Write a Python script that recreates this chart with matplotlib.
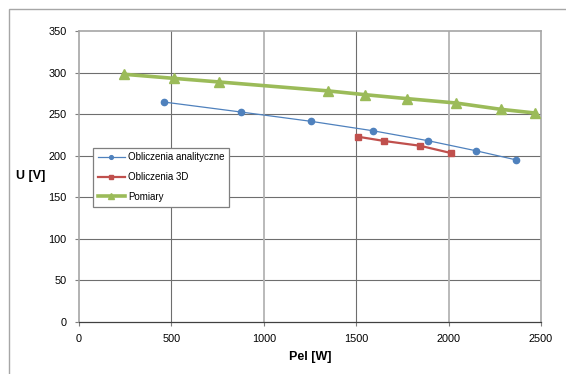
import matplotlib.pyplot as plt
from matplotlib.patches import Rectangle

plt.rcParams['font.family'] = ['Liberation Sans', 'DejaVu Sans']

# Obliczenia analityczne
anal_p = [458, 875, 1254, 1591, 1890, 2147, 2365]
anal_u = [264.6, 252.6, 241.4, 230.0, 218.0, 206.0, 195.0]

# Obliczenia 3D
fem_p = [1508, 1652, 1845, 2011]
fem_u = [222.9, 217.7, 212.0, 203.3]

# Pomiary
meas_p = [242, 516, 758, 1346, 1548, 1777, 2040, 2282, 2466]
meas_u = [298.0, 293.0, 288.7, 278.0, 273.4, 268.6, 263.4, 255.8, 251.4]

x_ticks = [0, 500, 1000, 1500, 2000, 2500]
y_ticks = [0, 50, 100, 150, 200, 250, 300, 350]

W, H = 566, 374
fig = plt.figure(figsize=(W / 100, H / 100), dpi=100)

# outer chart frame (clipped at right/bottom like the original)
fig.patches.append(Rectangle((9 / W, -0.1), 1.2, 1 - 9 / H + 0.1,
                             transform=fig.transFigure, fill=False,
                             edgecolor='#a6a6a6', linewidth=1.0))

ax = fig.add_axes([79 / W, 1 - 322 / H, (541 - 79) / W, (322 - 31) / H])
ax.set_xlim(0, 2500)
ax.set_ylim(0, 350)
ax.set_xticks(x_ticks)
ax.set_yticks(y_ticks)
ax.tick_params(labelsize=7.8, length=3, width=0.8, color='#7f7f7f')
ax.tick_params(axis='y', pad=6)
ax.tick_params(axis='x', pad=6)

# grid lines
for y in y_ticks[1:-1]:
    ax.axhline(y, color='#6e6e6e', linewidth=0.8, zorder=0)
for x in x_ticks[1:-1]:
    c = '#6e6e6e' if x in (500, 1500) else '#b4b4b4'
    lw = 0.8 if x in (500, 1500) else 1.3
    ax.axvline(x, color=c, linewidth=lw, zorder=0)

for s in ['left', 'top', 'right']:
    ax.spines[s].set_color('#a6a6a6')
    ax.spines[s].set_linewidth(1.2)
ax.spines['bottom'].set_color('#404040')
ax.spines['bottom'].set_linewidth(0.9)

ax.plot(anal_p, anal_u, color='#4F81BD', linewidth=0.9, marker='o',
        markersize=4.5, label='Obliczenia analityczne', zorder=3)
ax.plot(fem_p, fem_u, color='#C0504D', linewidth=1.6, marker='s',
        markersize=4.5, label='Obliczenia 3D', zorder=3)
ax.plot(meas_p, meas_u, color='#9BBB59', linewidth=2.6, marker='^',
        markersize=6.5, label='Pomiary', zorder=3)

ax.set_xlabel('Pel [W]', fontsize=9, fontweight='bold', labelpad=5)
ax.set_ylabel('U [V]', fontsize=9, fontweight='bold', rotation=0,
              labelpad=13, va='center')

leg = ax.legend(loc='upper left', bbox_to_anchor=((93 - 79) / (541 - 79), (322 - 147.5) / 291),
                fontsize=7, frameon=True, fancybox=False, framealpha=1,
                edgecolor='#7f7f7f', borderpad=0.5, labelspacing=1.0,
                handlelength=2.8, handletextpad=0.3, borderaxespad=0,
                markerscale=0.6)
leg.get_frame().set_linewidth(0.9)

fig.savefig('out.png', dpi=100)
